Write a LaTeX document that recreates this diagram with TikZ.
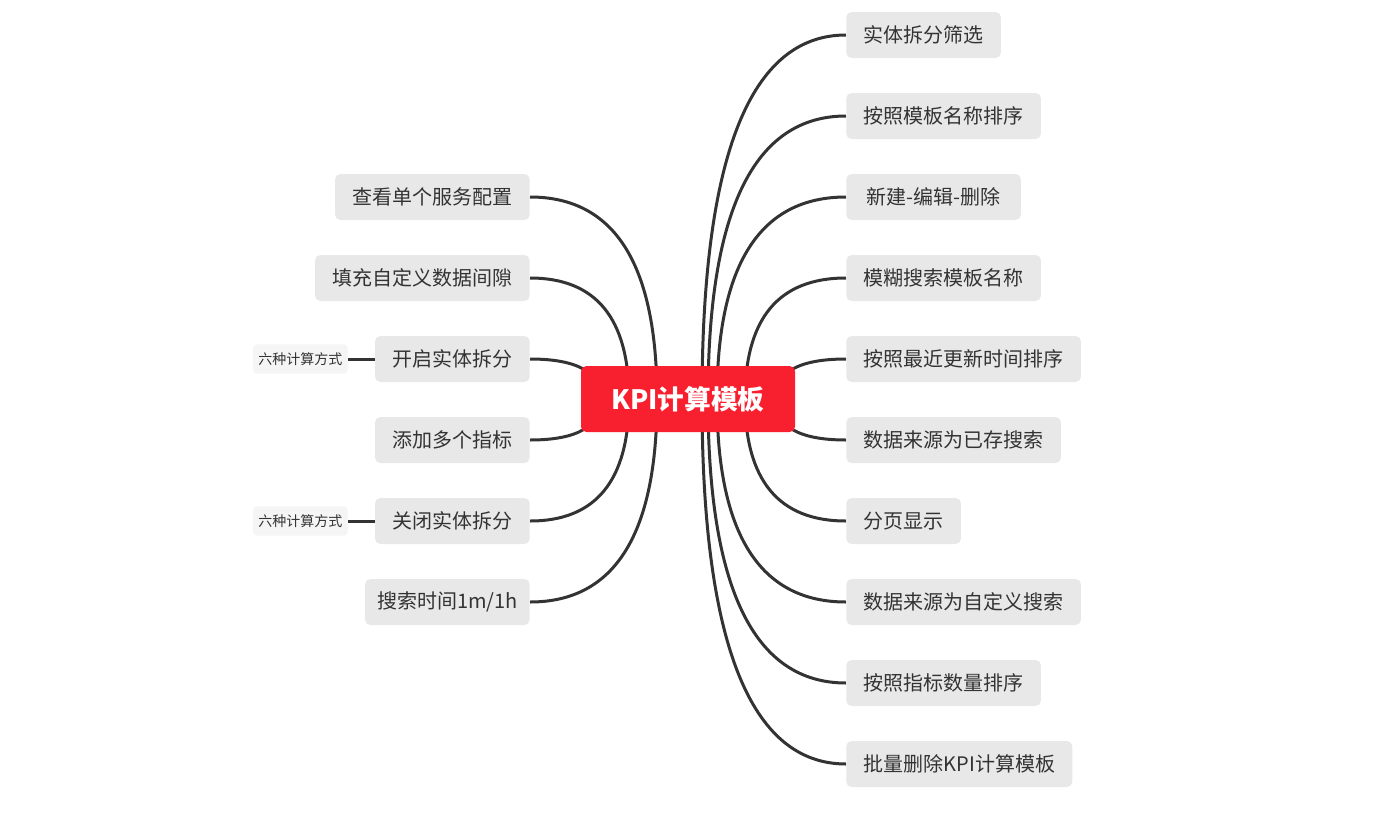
\documentclass[tikz,border=0pt]{standalone}
\usepackage{fontspec}
\setmainfont{Noto Sans CJK SC}
\usepackage{tikz}
\usetikzlibrary{calc,backgrounds}

\definecolor{rootred}{RGB}{248,31,46}
\definecolor{topicgray}{RGB}{232,232,232}
\definecolor{notegray}{RGB}{245,245,245}
\definecolor{inkgray}{RGB}{51,51,51}

\tikzset{
  rootbox/.style={fill=rootred, text=white, rounded corners=4pt, minimum width=160.5pt,
    minimum height=49.5pt, font=\fontsize{20}{24}\selectfont\bfseries},
  topic/.style={fill=topicgray, text=inkgray, rounded corners=4pt, inner xsep=13pt,
    minimum height=34.5pt, font=\fontsize{15}{18}\selectfont},
  note/.style={fill=notegray, text=inkgray, rounded corners=3pt, inner xsep=4pt,
    minimum height=22pt, font=\fontsize{10.5}{12}\selectfont},
  branch/.style={draw=inkgray, line width=2.25pt}
}

\begin{document}
\begin{tikzpicture}[x=0.75pt,y=-0.75pt]
    \useasboundingbox (0,0) rectangle (1381,835);
    \node [rootbox] (root) at (688,399) {KPI计算模板};
    % right side
    \node [topic, anchor=west] (r1) at (846,35) {实体拆分筛选};
    \node [topic, anchor=west] (r2) at (846,116) {按照模板名称排序};
    \node [topic, anchor=west, minimum width=131pt] (r3) at (846,197) {新建-编辑-删除};
    \node [topic, anchor=west] (r4) at (846,278) {模糊搜索模板名称};
    \node [topic, anchor=west] (r5) at (846,359) {按照最近更新时间排序};
    \node [topic, anchor=west] (r6) at (846,440) {数据来源为已存搜索};
    \node [topic, anchor=west] (r7) at (846,521) {分页显示};
    \node [topic, anchor=west] (r8) at (846,602) {数据来源为自定义搜索};
    \node [topic, anchor=west] (r9) at (846,683) {按照指标数量排序};
    \node [topic, anchor=west] (r10) at (846,764) {批量删除KPI计算模板};
    % left side
    \node [topic, anchor=east] (l1) at (530,197) {查看单个服务配置};
    \node [topic, anchor=east] (l2) at (530,278) {填充自定义数据间隙};
    \node [topic, anchor=east] (l3) at (530,359) {开启实体拆分};
    \node [topic, anchor=east] (l4) at (530,440) {添加多个指标};
    \node [topic, anchor=east] (l5) at (530,521) {关闭实体拆分};
    \node [topic, anchor=east, inner xsep=9pt] (l6) at (530,602) {搜索时间1m/1h};
    \node [note, anchor=east] (m1) at (348,359) {六种计算方式};
    \node [note, anchor=east] (m2) at (348,521) {六种计算方式};
    \begin{scope}[on background layer]
    \foreach \n/\dx in {r1/14,r2/20,r3/29,r4/57,r5/87,r6/87,r7/57,r8/29,r9/20,r10/14}{
        \coordinate (s) at ($(root.center)+(\dx,0)$);
        \coordinate (k) at (s |- \n.west);
        \draw [branch] (s) .. controls ($(s)!.667!(k)$) and ($(\n.west)!.667!(k)$) .. (\n.west);
    }
    \foreach \n/\dx in {l1/31,l2/59,l3/87,l4/87,l5/59,l6/31}{
        \coordinate (s) at ($(root.center)-(\dx,0)$);
        \coordinate (k) at (s |- \n.east);
        \draw [branch] (s) .. controls ($(s)!.667!(k)$) and ($(\n.east)!.667!(k)$) .. (\n.east);
    }
    \end{scope}
    \draw [branch] (m1.east) -- (l3.west);
    \draw [branch] (m2.east) -- (l5.west);
\end{tikzpicture}
\end{document}
